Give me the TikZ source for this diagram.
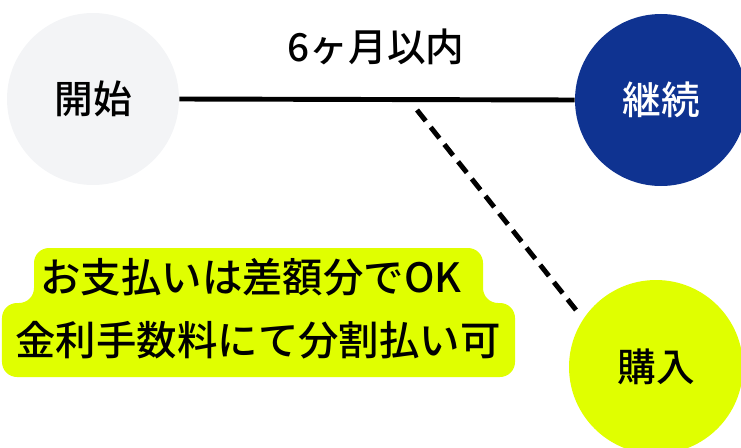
\documentclass[tikz,border=0pt]{standalone}
\usepackage{fontspec}
\setmainfont{Noto Sans CJK JP Medium}
\usepackage{xcolor}
\usetikzlibrary{calc,positioning}
\definecolor{startgray}{HTML}{F3F4F6}
\definecolor{navy}{HTML}{0F3391}
\definecolor{lime}{HTML}{E0FF00}

\begin{document}
\begin{tikzpicture}[
  stage/.style={circle,minimum size=3.44cm,inner sep=0pt,font=\fontsize{22}{26}\selectfont},
  boxtext/.style={inner sep=0pt,font=\fontsize{23}{27}\selectfont}]
\useasboundingbox (0,0) rectangle (14.82,8.94);
\clip (0,0) rectangle (14.82,8.94);

% Stages
\node[stage,fill=startgray] (kaishi) at (1.86,6.96) {開始};
\node[stage,fill=navy,text=white] (keizoku) at (13.22,6.94) {継続};
\node[stage,fill=lime,minimum size=3.48cm] (konyu) at (13.12,1.60) {購入};

% Period line
\draw[line width=2.8pt] (kaishi.east) -- (keizoku.west);
\node[font=\fontsize{22}{26}\selectfont] (kikan) at (7.52,8.0) {6ヶ月以内};

% Branch to purchase
\coordinate (branch) at (8.34,6.74);
\coordinate (dashend) at (11.52,2.74);
\draw[line width=2.8pt,dash pattern=on 0.28cm off 0.16cm] (branch) -- (dashend);

% Payment note
\fill[lime,rounded corners=0.3cm] (0.68,3.98) -- (9.66,3.98) -- (9.66,2.88) -- (10.30,2.88)
  -- (10.30,1.40) -- (0.04,1.40) -- (0.04,2.88) -- (0.68,2.88) -- cycle;
\node[boxtext] (shiharai) at (5.02,3.40) {お支払いは差額分でOK};
\node[boxtext] (bunkatsu) at (5.16,2.14) {金利手数料にて分割払い可};

\end{tikzpicture}
\end{document}
